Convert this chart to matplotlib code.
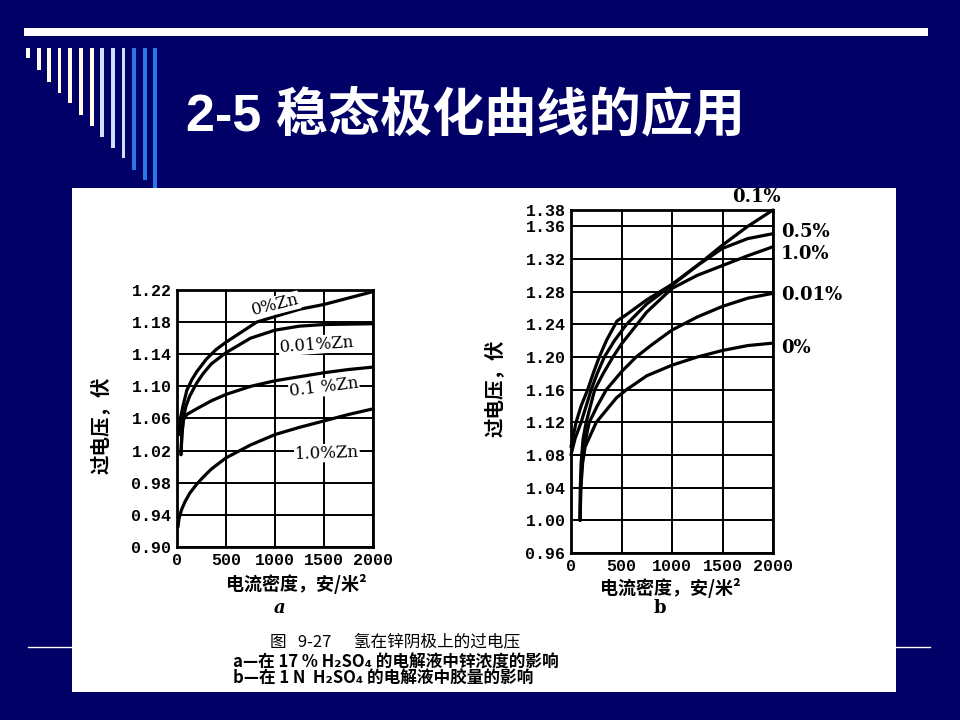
import matplotlib
matplotlib.use("Agg")
import matplotlib.pyplot as plt
from matplotlib.patches import Rectangle
from matplotlib.lines import Line2D

# ---------------- data: chart a (zinc concentration in 17% H2SO4) ----------------
a_x_ticks = [0, 500, 1000, 1500, 2000]
a_y_ticks = [0.90, 0.94, 0.98, 1.02, 1.06, 1.10, 1.14, 1.18, 1.22]
a_y_labels = ["0.90", "0.94", "0.98", "1.02", "1.06", "1.10", "1.14", "1.18", "1.22"]

a_zn0_x = [20, 35, 60, 100, 150, 200, 300, 400, 500, 750, 812, 1000, 1250, 1500, 1750, 2000]
a_zn0_y = [1.040, 1.060, 1.075, 1.095, 1.108, 1.118, 1.134, 1.146, 1.155, 1.175, 1.180, 1.187, 1.196, 1.202, 1.210, 1.218]

a_zn001_x = [40, 50, 65, 90, 130, 200, 267, 350, 500, 750, 1000, 1250, 1500, 2000]
a_zn001_y = [1.015, 1.040, 1.060, 1.075, 1.088, 1.104, 1.116, 1.128, 1.142, 1.160, 1.170, 1.175, 1.177, 1.178]

a_zn01_x = [40, 50, 65, 100, 200, 350, 500, 750, 1000, 1250, 1500, 1750, 2000]
a_zn01_y = [1.015, 1.040, 1.058, 1.065, 1.072, 1.082, 1.090, 1.100, 1.107, 1.112, 1.117, 1.121, 1.124]

a_zn1_x = [10, 20, 45, 80, 130, 200, 267, 350, 500, 750, 1000, 1250, 1500, 1750, 2000]
a_zn1_y = [0.925, 0.935, 0.946, 0.956, 0.967, 0.978, 0.987, 0.997, 1.011, 1.027, 1.040, 1.049, 1.057, 1.065, 1.072]

a_labels = ["0%Zn", "0.01%Zn", "0.1 %Zn", "1.0%Zn"]

# ---------------- data: chart b (colloid amount in 1N H2SO4) ----------------
b_x_ticks = [0, 500, 1000, 1500, 2000]
b_y_ticks = [0.96, 1.00, 1.04, 1.08, 1.12, 1.16, 1.20, 1.24, 1.28, 1.32, 1.36, 1.38]
b_y_labels = ["0.96", "1.00", "1.04", "1.08", "1.12", "1.16", "1.20", "1.24", "1.28", "1.32", "1.36", "1.38"]

b_01_x = [0, 25, 50, 100, 165, 220, 280, 350, 420, 455, 550, 750, 1000, 1250, 1500, 1750, 2000]
b_01_y = [1.090, 1.105, 1.120, 1.140, 1.160, 1.180, 1.200, 1.220, 1.236, 1.244, 1.252, 1.270, 1.289, 1.312, 1.337, 1.360, 1.380]

b_05_x = [0, 40, 100, 200, 260, 330, 430, 550, 750, 1000, 1250, 1500, 1750, 2000]
b_05_y = [1.080, 1.100, 1.120, 1.160, 1.180, 1.200, 1.220, 1.240, 1.265, 1.288, 1.312, 1.333, 1.345, 1.351]

b_1_x = [90, 92, 100, 120, 150, 235, 320, 415, 500, 750, 1000, 1250, 1500, 1750, 2000]
b_1_y = [1.000, 1.040, 1.070, 1.100, 1.120, 1.160, 1.180, 1.200, 1.216, 1.255, 1.284, 1.300, 1.312, 1.324, 1.335]

b_001_x = [90, 95, 110, 130, 180, 260, 350, 500, 645, 800, 1000, 1250, 1500, 1750, 2000]
b_001_y = [1.000, 1.040, 1.070, 1.090, 1.120, 1.140, 1.160, 1.182, 1.200, 1.215, 1.233, 1.249, 1.262, 1.272, 1.278]

b_0_x = [90, 98, 115, 140, 250, 350, 450, 550, 750, 1000, 1250, 1500, 1750, 2000]
b_0_y = [1.000, 1.040, 1.070, 1.090, 1.120, 1.135, 1.150, 1.160, 1.177, 1.190, 1.200, 1.208, 1.214, 1.217]

b_labels = ["0.1%", "0.5%", "1.0%", "0.01%", "0%"]

# ---------------- text ----------------
title = "2-5 稳态极化曲线的应用"
y_label = "过电压，伏"
x_label = "电流密度，安/米²"
caption = ["图   9-27      氢在锌阴极上的过电压",
           "a—在 17 % H₂SO₄ 的电解液中锌浓度的影响",
           "b—在 1 N  H₂SO₄ 的电解液中胶量的影响"]

NAVY = "#000066"
W, H = 960, 720
CJK = ["Noto Sans CJK SC", "DejaVu Sans"]
NUM = "Liberation Mono"

fig = plt.figure(figsize=(9.6, 7.2), dpi=100, facecolor=NAVY)

def fx(px):
    return px / W

def fy(py):
    return 1 - py / H

# ---- slide decorations ----
fig.add_artist(Rectangle((fx(24), fy(36)), fx(928 - 24), 8 / H, color="white", lw=0))
stripe_x = [26, 37, 47, 58, 68, 79, 90, 100, 111, 122, 132, 143, 153]
stripe_bottom = [58, 70, 82, 93, 103, 115, 126, 137, 148, 158, 170, 180, 190]
stripe_col = ["#fffbe6"] * 7 + ["#cfe0fb"] * 3 + ["#2a78e8"] * 3
for sx, sb, sc in zip(stripe_x, stripe_bottom, stripe_col):
    fig.add_artist(Rectangle((fx(sx), fy(sb)), 3.5 / W, (sb - 48) / H, color=sc, lw=0))
fig.add_artist(Line2D([fx(28), fx(930)], [fy(647), fy(647)], color="white", lw=1))
fig.add_artist(Rectangle((fx(72), fy(692)), fx(896 - 72), (692 - 188) / H, color="white", lw=0, zorder=1))

fig.text(fx(186), fy(117), title, color="white", fontsize=37.5, fontweight="bold",
         family=["Liberation Sans", "Noto Sans CJK SC"], va="center", ha="left")

LW = 2.3
GRID_LW = 1.4

def style_axes(ax, xticks, yticks, ylabels, ylim):
    ax.set_xlim(0, 2000)
    ax.set_ylim(*ylim)
    ax.set_xticks(xticks, labels=[str(t) for t in xticks], fontfamily=NUM, fontweight="bold", fontsize=12)
    ax.set_yticks(yticks, labels=ylabels, fontfamily=NUM, fontweight="bold", fontsize=12)
    ax.tick_params(length=0, pad=4, colors="black")
    ax.grid(True, color="black", lw=GRID_LW)
    for s in ax.spines.values():
        s.set_linewidth(2)
        s.set_color("black")
    ax.set_facecolor("white")
    ax.set_axisbelow(True)

# ---- chart a ----
axa = fig.add_axes([fx(177), fy(547), fx(373 - 177), (547 - 290) / H], zorder=2)
style_axes(axa, a_x_ticks, a_y_ticks, a_y_labels, (0.90, 1.22))
for xs, ys in [(a_zn0_x, a_zn0_y), (a_zn001_x, a_zn001_y), (a_zn01_x, a_zn01_y), (a_zn1_x, a_zn1_y)]:
    axa.plot(xs, ys, color="black", lw=LW, solid_capstyle="round", clip_on=False)
a_lab_pos = [(1005, 1.201, 14), (1425, 1.152, 4), (1500, 1.099, 7), (1530, 1.017, 2)]
for txt, (lx, ly, rot) in zip(a_labels, a_lab_pos):
    axa.text(lx, ly, txt, fontsize=12, fontfamily="DejaVu Serif", ha="center", va="center",
             rotation=rot, color="black",
             bbox=dict(facecolor="white", edgecolor="none", pad=0.5))
axa.set_ylabel(y_label, family=CJK, fontsize=14, fontweight="bold")
axa.yaxis.set_label_coords(-0.34, 0.475)
axa.set_xlabel(x_label, family=CJK, fontsize=13, fontweight="bold")
axa.xaxis.set_label_coords(0.61, -0.105)

# ---- chart b ----
axb = fig.add_axes([fx(571), fy(553), fx(773 - 571), (553 - 210) / H], zorder=2)
style_axes(axb, b_x_ticks, b_y_ticks, b_y_labels, (0.96, 1.38))
for xs, ys in [(b_01_x, b_01_y), (b_05_x, b_05_y), (b_1_x, b_1_y), (b_001_x, b_001_y), (b_0_x, b_0_y)]:
    axb.plot(xs, ys, color="black", lw=LW, solid_capstyle="round", clip_on=False)
b_lab_pos = [(1600, 1.396), (2080, 1.353), (2080, 1.326), (2080, 1.276), (2080, 1.211)]
for txt, (lx, ly) in zip(b_labels, b_lab_pos):
    axb.text(lx, ly, txt, fontsize=13, fontfamily="DejaVu Serif", fontweight="bold",
             ha="left", va="center", color="black", clip_on=False)
axb.set_ylabel(y_label, family=CJK, fontsize=14, fontweight="bold")
axb.yaxis.set_label_coords(-0.33, 0.48)
axb.set_xlabel(x_label, family=CJK, fontsize=13, fontweight="bold")
axb.xaxis.set_label_coords(0.49, -0.072)

# ---- sub-figure letters and caption ----
fig.text(fx(280), fy(608), "a", fontsize=13, fontfamily="DejaVu Serif", style="italic",
         fontweight="bold", ha="center", va="center", zorder=3)
fig.text(fx(660), fy(608), "b", fontsize=13, fontfamily="DejaVu Serif", fontweight="bold",
         ha="center", va="center", zorder=3)
fig.text(fx(270), fy(642), caption[0], fontsize=12, family=CJK, ha="left", va="center", zorder=3)
fig.text(fx(233), fy(662), caption[1], fontsize=12, family=CJK, fontweight="bold", ha="left", va="center", zorder=3)
fig.text(fx(233), fy(679), caption[2], fontsize=12, family=CJK, fontweight="bold", ha="left", va="center", zorder=3)

fig.savefig("out.png", dpi=100, facecolor=NAVY)
